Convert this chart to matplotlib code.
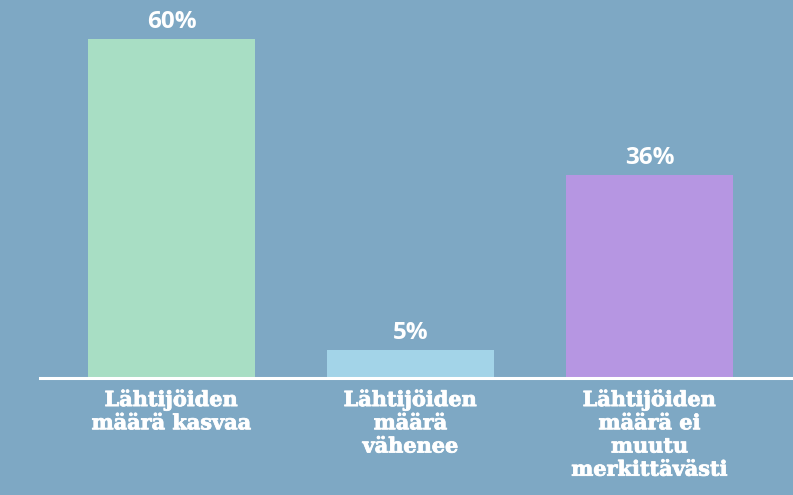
import matplotlib
matplotlib.use("Agg")
import matplotlib.pyplot as plt
import matplotlib.patheffects as pe

categories = ["Lähtijöiden\nmäärä kasvaa", "Lähtijöiden\nmäärä\nvähenee", "Lähtijöiden\nmäärä ei\nmuutu\nmerkittävästi"]
values = [60, 5, 36]
value_labels = ["60%", "5%", "36%"]
colors = ["#a8dec4", "#a3d4e8", "#b696e2"]
bg = "#7ea8c4"

W, H = 793, 495
fig = plt.figure(figsize=(W / 100, H / 100), dpi=100, facecolor=bg)
ax = fig.add_axes([40 / W, 117 / H, (W - 40) / W, 378 / H])
ax.set_facecolor(bg)

x = list(range(len(categories)))
ax.bar(x, values, width=0.7, color=colors, zorder=2)
ax.set_xlim(-0.550, 2.600)
ax.set_ylim(0, 378 / 5.65)

for xi, v, lab in zip(x, values, value_labels):
    ax.text(xi, v + 0.9, lab, ha="center", va="bottom", color="white",
            fontsize=17.5, fontweight="bold", family="Open Sans")

for s in ["top", "right", "left"]:
    ax.spines[s].set_visible(False)
ax.spines["bottom"].set_color("white")
ax.spines["bottom"].set_linewidth(2.2)
ax.set_yticks([])
ax.set_xticks(x)
ax.set_xticklabels(categories, color="white", fontsize=15, fontweight="bold",
                   family="DejaVu Serif", linespacing=1.2)
for t in ax.get_xticklabels():
    t.set_path_effects([pe.withStroke(linewidth=0.6, foreground="white")])
ax.tick_params(axis="x", length=0, pad=8)

fig.savefig("out.png", dpi=100, facecolor=bg)
